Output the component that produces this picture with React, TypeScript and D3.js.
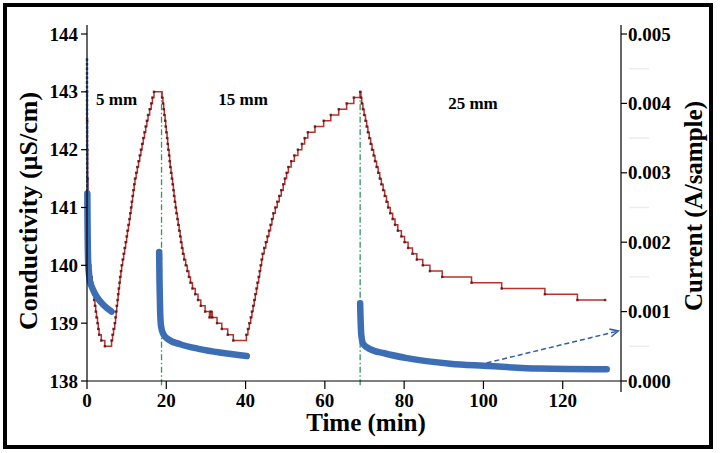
import React from 'react';
import * as d3 from 'd3';

const W = 722;
const H = 453;

// Conductivity readings (min, µS/cm) — stepped meter output
const conductivity: [number, number][] = [
  [0, 143.0], [0.04, 142.5], [0.1, 142.0], [0.18, 141.5], [0.28, 141.0], [0.45, 140.5], [0.62, 140.2], [0.76, 140.0],
  [0.95, 139.9], [1.1, 139.8], [1.3, 139.7], [1.45, 139.6], [1.65, 139.5], [1.8, 139.4], [2.0, 139.3], [2.2, 139.2],
  [2.4, 139.1], [2.65, 139.0], [2.85, 138.9], [3.05, 138.8], [3.6, 138.7], [4.5, 138.6],
  [6.2, 138.7], [6.45, 138.8], [6.7, 138.9], [7.0, 139.0], [7.2, 139.1], [7.35, 139.2], [7.5, 139.3], [7.7, 139.4],
  [7.85, 139.5], [8.0, 139.6], [8.2, 139.7], [8.35, 139.8], [8.55, 139.9], [8.75, 140.0], [9.0, 140.1], [9.25, 140.2],
  [9.5, 140.3], [9.75, 140.4], [10.0, 140.5], [10.2, 140.6], [10.45, 140.7], [10.7, 140.8], [10.9, 140.9], [11.1, 141.0],
  [11.3, 141.1], [11.5, 141.2], [11.7, 141.3], [11.9, 141.4], [12.1, 141.5], [12.4, 141.6], [12.7, 141.7], [13.0, 141.8],
  [13.3, 141.9], [13.6, 142.0], [13.9, 142.1], [14.2, 142.2], [14.5, 142.3], [14.8, 142.4], [15.1, 142.5], [15.4, 142.6],
  [15.8, 142.7], [16.2, 142.8], [16.5, 142.9], [16.9, 143.0],
  [18.95, 142.9], [19.15, 142.8], [19.35, 142.7], [19.5, 142.6], [19.7, 142.5], [19.85, 142.4], [20.0, 142.3], [20.2, 142.2],
  [20.35, 142.1], [20.5, 142.0], [20.7, 141.9], [20.85, 141.8], [21.0, 141.7], [21.2, 141.6], [21.4, 141.5], [21.6, 141.4],
  [21.8, 141.3], [21.95, 141.2], [22.15, 141.1], [22.35, 141.0], [22.55, 140.9], [22.8, 140.8], [23.0, 140.7], [23.25, 140.6],
  [23.5, 140.5], [23.7, 140.4], [23.95, 140.3], [24.2, 140.2], [24.5, 140.1], [24.9, 140.0], [25.3, 139.9], [25.7, 139.8],
  [26.1, 139.7], [26.6, 139.6], [27.3, 139.5], [28.0, 139.4], [28.7, 139.3], [29.8, 139.2], [30.9, 139.1], [31.2, 139.2],
  [31.6, 139.1], [32.8, 139.0], [34.0, 138.9], [35.5, 138.8], [36.9, 138.7],
  [40.2, 138.8], [40.6, 138.9], [40.95, 139.0], [41.3, 139.1], [41.6, 139.2], [41.9, 139.3], [42.2, 139.4], [42.45, 139.5],
  [42.75, 139.6], [43.0, 139.7], [43.3, 139.8], [43.55, 139.9], [43.8, 140.0], [44.05, 140.1], [44.3, 140.2], [44.7, 140.3],
  [45.1, 140.4], [45.5, 140.5], [45.9, 140.6], [46.3, 140.7], [46.65, 140.8], [47.0, 140.9], [47.5, 141.0], [48.0, 141.1],
  [48.5, 141.2], [49.0, 141.3], [49.5, 141.4], [49.9, 141.5], [50.35, 141.6], [50.8, 141.7], [51.5, 141.8], [52.3, 141.9],
  [53.2, 142.0], [54.2, 142.1], [54.9, 142.2], [55.7, 142.3], [57.5, 142.4], [59.7, 142.5], [61.5, 142.6], [63.5, 142.7],
  [65.5, 142.8], [67.3, 142.9], [68.9, 143.0],
  [69.1, 142.9], [69.3, 142.8], [69.6, 142.7], [69.9, 142.6], [70.25, 142.5], [70.55, 142.4], [70.85, 142.3], [71.2, 142.2],
  [71.55, 142.1], [71.9, 142.0], [72.3, 141.9], [72.65, 141.8], [73.05, 141.7], [73.45, 141.6], [73.85, 141.5], [74.25, 141.4],
  [74.7, 141.3], [75.1, 141.2], [75.55, 141.1], [75.95, 141.0], [76.5, 140.9], [77.1, 140.8], [77.7, 140.7], [78.4, 140.6],
  [79.3, 140.5], [80.1, 140.4], [81.0, 140.3], [82.1, 140.2], [83.2, 140.1], [84.7, 140.0], [86.5, 139.9], [89.6, 139.8],
  [97.0, 139.7], [104.6, 139.6], [115.5, 139.5], [123.7, 139.4], [130.7, 139.4],
];

// Current segments (min, A/sample)
const current5mmSpike: [number, number][] = [
  [0, 0.00465], [0.03, 0.0036], [0.08, 0.0027],
];
const current5mm: [number, number][] = [
  [0.08, 0.0027], [0.15, 0.0022], [0.3, 0.0017], [0.7, 0.00145], [1.5, 0.00132], [2.5, 0.00121], [4.1, 0.0011], [6.2, 0.001],
];
const current15mm: [number, number][] = [
  [18.2, 0.00186], [18.3, 0.0014], [18.45, 0.001], [18.7, 0.00078], [19.3, 0.00067], [20.5, 0.0006], [23.5, 0.00053], [28.5, 0.00046], [33.5, 0.00041], [40.3, 0.00036],
];
const current25mm: [number, number][] = [
  [68.9, 0.00112], [69.0, 0.0009], [69.2, 0.00066], [69.7, 0.00053], [71.4, 0.00046], [75, 0.0004], [80.7, 0.00033], [91.6, 0.00025], [100, 0.00022], [114.3, 0.00018], [131.1, 0.00017],
];

const switchTimes = [18.8, 68.9];
const xTicks = [0, 20, 40, 60, 80, 100, 120];
const yLTicks = [138, 139, 140, 141, 142, 143, 144];
const yRTicks = [0, 0.001, 0.002, 0.003, 0.004, 0.005];
const yRMinor = [0.0005, 0.0015, 0.0025, 0.0035, 0.0045];
const distanceLabels = [
  { text: '5 mm', t: 2.3, v: 142.78 },
  { text: '15 mm', t: 33.1, v: 142.78 },
  { text: '25 mm', t: 91.1, v: 142.71 },
];
const arrowFrom: [number, number] = [100.8, 0.00026];
const arrowTo: [number, number] = [134.0, 0.00072];

const FONT = "'Liberation Serif', 'Times New Roman', serif";

export default function App() {
  const x = d3.scaleLinear().domain([0, 134.7]).range([87, 621]);
  const yL = d3.scaleLinear().domain([138, 144]).range([381, 34]);
  const yR = d3.scaleLinear().domain([0, 0.005]).range([381, 34]);

  const redLine = d3.line<[number, number]>().x(d => x(d[0])).y(d => yL(d[1])).curve(d3.curveStepAfter);
  const blueLine = d3.line<[number, number]>().x(d => x(d[0])).y(d => yR(d[1])).curve(d3.curveMonotoneX);

  const ax0 = x(arrowFrom[0]), ay0 = yR(arrowFrom[1]);
  const ax1 = x(arrowTo[0]), ay1 = yR(arrowTo[1]);
  const ang = Math.atan2(ay1 - ay0, ax1 - ax0);
  const ah = 9;
  const hp1 = [ax1 - ah * Math.cos(ang - 0.45), ay1 - ah * Math.sin(ang - 0.45)];
  const hp2 = [ax1 - ah * Math.cos(ang + 0.45), ay1 - ah * Math.sin(ang + 0.45)];

  const x0 = x.range()[0];
  const x1 = x.range()[1];
  const yb = yL.range()[0];

  return (
    <svg width={W} height={H} style={{ position: 'absolute', left: 0, top: 0, background: '#fff' }} fontFamily={FONT}>
      <rect x={0} y={0} width={W} height={H} fill="#fff" />
      <rect x={5} y={5} width={706} height={442} fill="none" stroke="#000" strokeWidth={4} />

      {/* green dash-dot switch lines */}
      {switchTimes.map((t, i) => (
        <line key={i} x1={x(t)} x2={x(t)} y1={yL(143)} y2={yb + 5} stroke="#2f9a5a" strokeWidth={1.3} strokeDasharray="6,2.5,1.5,2.5" />
      ))}

      {/* conductivity */}
      <path d={redLine(conductivity) || ''} fill="none" stroke="#b8312f" strokeWidth={1.5} />
      {conductivity.map((d, i) => (
        <rect key={i} x={x(d[0]) - 1.2} y={yL(d[1]) - 1.2} width={2.4} height={2.4} fill="#5a1414" opacity={0.85} />
      ))}

      {/* current */}
      <path d={blueLine(current5mmSpike) || ''} fill="none" stroke="#3c6eb6" strokeWidth={2.5} strokeDasharray="3,1.5" />
      {[current5mm, current15mm, current25mm].map((s, i) => (
        <path key={i} d={blueLine(s) || ''} fill="none" stroke="#3c6eb6" strokeWidth={6.5} strokeLinecap="round" strokeLinejoin="round" />
      ))}

      {/* arrow */}
      <line x1={ax0} y1={ay0} x2={ax1} y2={ay1} stroke="#2f5fa8" strokeWidth={1.5} strokeDasharray="5,3" />
      <path d={`M${hp1[0]},${hp1[1]} L${ax1},${ay1} L${hp2[0]},${hp2[1]}`} fill="none" stroke="#2f5fa8" strokeWidth={1.6} />

      {/* axes */}
      <line x1={x0} x2={x0} y1={25} y2={yb} stroke="#000" strokeWidth={1.2} />
      <line x1={x1} x2={x1} y1={25} y2={yb + 11} stroke="#000" strokeWidth={1.2} />
      <line x1={x0} x2={x1} y1={yb} y2={yb} stroke="#000" strokeWidth={1.2} />

      {yLTicks.map(v => (
        <g key={v}>
          <line x1={x0 - 6} x2={x0} y1={yL(v)} y2={yL(v)} stroke="#000" strokeWidth={1.2} />
          <text x={x0 - 9} y={yL(v) + 6.5} textAnchor="end" fontSize={19} fontWeight="bold">{v}</text>
        </g>
      ))}
      {yRMinor.map(v => (
        <line key={v} x1={x1 + 8} x2={x1 + 28} y1={yR(v)} y2={yR(v)} stroke="#ececec" strokeWidth={1.5} />
      ))}
      {yRTicks.map(v => (
        <g key={v}>
          <line x1={x1} x2={x1 + 6} y1={yR(v)} y2={yR(v)} stroke="#000" strokeWidth={1.2} />
          <text x={x1 + 7} y={yR(v) + 6.5} textAnchor="start" fontSize={19} fontWeight="bold">{d3.format('.3f')(v)}</text>
        </g>
      ))}
      {xTicks.map(v => (
        <g key={v}>
          <line x1={x(v)} x2={x(v)} y1={yb} y2={yb + 8} stroke="#000" strokeWidth={1.2} />
          <text x={x(v)} y={yb + 26} textAnchor="middle" fontSize={19} fontWeight="bold">{v}</text>
        </g>
      ))}

      {/* annotations */}
      {distanceLabels.map(l => (
        <text key={l.text} x={x(l.t)} y={yL(l.v)} fontSize={17} fontWeight="bold">{l.text}</text>
      ))}

      {/* titles */}
      <text x={(x0 + x1) / 2 + 12} y={431} textAnchor="middle" fontSize={25} fontWeight="bold">Time (min)</text>
      <text transform={`translate(37, 211) rotate(-90)`} textAnchor="middle" fontSize={26} fontWeight="bold">Conductivity (µS/cm)</text>
      <text transform={`translate(702, 206) rotate(-90)`} textAnchor="middle" fontSize={25} fontWeight="bold">Current (A/sample)</text>
    </svg>
  );
}
